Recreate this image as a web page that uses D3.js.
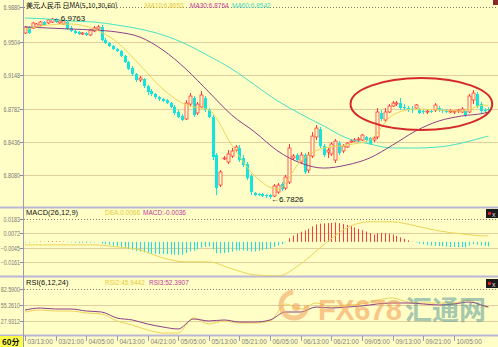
<!DOCTYPE html>
<html><head><meta charset="utf-8">
<script src="https://cdn.jsdelivr.net/npm/d3@7"></script>
<style>
body{margin:0;background:#fffec6;}
svg{display:block;font-family:"Liberation Sans",Arial,sans-serif;}
</style></head>
<body><div id="chart"></div>
<script>
// 60分钟K线 美元人民币
const open = [6.9601,6.9666,6.9655,6.9666,6.9687,6.9719,6.9709,6.9719,6.9751,6.9709,
6.9698,6.9719,6.9655,6.9623,6.9612,6.9591,6.9601,6.9580,6.9623,6.9644,
6.9666,6.9526,6.9494,6.9462,6.9430,6.9408,6.9355,6.9291,6.9226,6.9162,
6.9098,6.9108,6.9033,6.8980,6.8948,6.8915,6.8894,6.8883,6.8851,6.8808,
6.8755,6.8712,6.8680,6.8840,6.8905,6.8744,6.8808,6.8905,6.8776,6.8701,
6.8294,6.7972,6.8262,6.8219,6.8283,6.8347,6.8369,6.8262,6.8197,6.8069,
6.7887,6.7876,6.7876,6.7865,6.7865,6.7854,6.7897,6.7983,6.7940,6.8004,
6.8262,6.8294,6.8219,6.8294,6.8133,6.8283,6.8487,6.8572,6.8390,6.8326,
6.8305,6.8240,6.8422,6.8337,6.8380,6.8433,6.8444,6.8455,6.8455,6.8487,
6.8476,6.8455,6.8487,6.8744,6.8669,6.8755,6.8819,6.8840,6.8851,6.8808,
6.8797,6.8787,6.8797,6.8776,6.8765,6.8755,6.8765,6.8776,6.8797,6.8776,
6.8765,6.8765,6.8755,6.8765,6.8755,6.8765,6.8755,6.8883,6.8948,6.8840,
6.8776,6.8787];
const close = [6.9666,6.9601,6.9709,6.9698,6.9719,6.9687,6.9741,6.9751,6.9719,6.9730,
6.9730,6.9644,6.9623,6.9601,6.9591,6.9601,6.9580,6.9633,6.9655,6.9666,
6.9526,6.9494,6.9462,6.9430,6.9408,6.9355,6.9291,6.9216,6.9162,6.9098,
6.9119,6.9033,6.8969,6.8948,6.8915,6.8894,6.8873,6.8851,6.8808,6.8744,
6.8701,6.8669,6.8851,6.8926,6.8722,6.8840,6.8937,6.8776,6.8701,6.8272,
6.7940,6.8112,6.8262,6.8305,6.8337,6.8380,6.8240,6.8187,6.8047,6.7897,
6.7865,6.7865,6.7854,6.7854,6.7844,6.7962,6.7972,6.7929,6.8058,6.8369,
6.8283,6.8240,6.8294,6.8112,6.8294,6.8497,6.8583,6.8390,6.8294,6.8347,
6.8412,6.8444,6.8315,6.8390,6.8422,6.8444,6.8455,6.8465,6.8508,6.8455,
6.8412,6.8476,6.8755,6.8680,6.8755,6.8819,6.8851,6.8851,6.8797,6.8797,
6.8776,6.8776,6.8830,6.8744,6.8755,6.8765,6.8755,6.8830,6.8776,6.8765,
6.8755,6.8766,6.8765,6.8776,6.8787,6.8722,6.8926,6.8958,6.8819,6.8765,
6.8765,6.8776];
const high = [6.9676,6.9676,6.9719,6.9709,6.9730,6.9730,6.9751,6.9763,6.9760,6.9741,
6.9741,6.9730,6.9676,6.9633,6.9623,6.9612,6.9612,6.9644,6.9676,6.9687,
6.9687,6.9548,6.9505,6.9473,6.9441,6.9419,6.9366,6.9301,6.9248,6.9173,
6.9141,6.9119,6.9044,6.9001,6.8958,6.8926,6.8905,6.8894,6.8862,6.8830,
6.8776,6.8733,6.8883,6.8958,6.8926,6.8862,6.8980,6.8926,6.8797,6.8722,
6.8315,6.8133,6.8283,6.8347,6.8369,6.8401,6.8401,6.8294,6.8219,6.8090,
6.7897,6.7887,6.7887,6.7876,6.7876,6.7983,6.7994,6.8004,6.8080,6.8412,
6.8305,6.8315,6.8326,6.8315,6.8326,6.8540,6.8615,6.8594,6.8412,6.8369,
6.8433,6.8465,6.8444,6.8412,6.8433,6.8465,6.8476,6.8487,6.8519,6.8497,
6.8487,6.8497,6.8797,6.8776,6.8797,6.8840,6.8873,6.8873,6.8905,6.8840,
6.8819,6.8819,6.8840,6.8797,6.8787,6.8776,6.8787,6.8851,6.8819,6.8787,
6.8787,6.8787,6.8776,6.8787,6.8808,6.8776,6.8948,6.8990,6.8969,6.8862,
6.8797,6.8808];
const low = [6.9591,6.9591,6.9644,6.9655,6.9676,6.9676,6.9698,6.9709,6.9709,6.9698,
6.9687,6.9633,6.9612,6.9591,6.9580,6.9580,6.9569,6.9569,6.9612,6.9633,
6.9516,6.9483,6.9451,6.9419,6.9398,6.9344,6.9280,6.9205,6.9141,6.9076,
6.9076,6.9012,6.8937,6.8926,6.8894,6.8873,6.8862,6.8840,6.8797,6.8722,
6.8690,6.8658,6.8669,6.8819,6.8701,6.8722,6.8797,6.8755,6.8690,6.8240,
6.7865,6.7951,6.8240,6.8197,6.8262,6.8326,6.8219,6.8165,6.8026,6.7865,
6.7854,6.7854,6.7844,6.7833,6.7826,6.7844,6.7876,6.7908,6.7919,6.7983,
6.8240,6.8229,6.8197,6.8090,6.8101,6.8262,6.8455,6.8369,6.8272,6.8262,
6.8283,6.8208,6.8294,6.8315,6.8369,6.8422,6.8433,6.8433,6.8444,6.8433,
6.8401,6.8433,6.8465,6.8658,6.8647,6.8744,6.8808,6.8819,6.8776,6.8776,
6.8755,6.8744,6.8787,6.8733,6.8733,6.8733,6.8744,6.8755,6.8755,6.8744,
6.8744,6.8744,6.8733,6.8744,6.8744,6.8701,6.8744,6.8840,6.8797,6.8744,
6.8744,6.8733];

// 均线（每6根取一个读数）
const maIdx = [0,6,12,18,24,30,36,42,48,54,60,66,72,78,84,90,96,102,108,114,120,121];
const ma10 = [6.9633,6.9687,6.9698,6.9644,6.9505,6.9258,6.9001,6.8830,6.8776,6.8401,6.8069,
  6.7929,6.8229,6.8369,6.8401,6.8455,6.8722,6.8787,6.8776,6.8765,6.8830,6.8819];
const ma30 = [6.9666,6.9655,6.9644,6.9633,6.9612,6.9558,6.9419,6.9216,6.8969,6.8722,6.8540,
  6.8337,6.8208,6.8154,6.8187,6.8262,6.8401,6.8551,6.8658,6.8712,6.8744,6.8755];
const ma60 = [6.9762,6.9751,6.9730,6.9719,6.9687,6.9644,6.9580,6.9483,6.9355,6.9216,6.9044,
  6.8873,6.8733,6.8605,6.8476,6.8412,6.8369,6.8369,6.8380,6.8422,6.8487,6.8497];

// MACD
const macdHist = [-0.0004,-0.0006,-0.0003,0.0002,0.0003,0.0002,0.0004,0.0005,0.0004,0.0003,
0.0002,-0.0002,-0.0004,-0.0006,-0.0008,-0.0007,-0.0008,-0.0006,-0.0004,-0.0003,
-0.0012,-0.0018,-0.0024,-0.0030,-0.0036,-0.0042,-0.0050,-0.0058,-0.0066,-0.0074,
-0.0078,-0.0084,-0.0090,-0.0094,-0.0096,-0.0098,-0.0098,-0.0098,-0.0100,-0.0102,
-0.0104,-0.0104,-0.0090,-0.0076,-0.0070,-0.0060,-0.0046,-0.0040,-0.0038,-0.0060,
-0.0090,-0.0092,-0.0090,-0.0084,-0.0078,-0.0070,-0.0068,-0.0068,-0.0072,-0.0078,
-0.0076,-0.0072,-0.0066,-0.0060,-0.0054,-0.0040,-0.0028,-0.0018,-0.0004,0.0030,
0.0050,0.0066,0.0082,0.0092,0.0104,0.0124,0.0140,0.0146,0.0148,0.0150,
0.0152,0.0156,0.0150,0.0144,0.0136,0.0126,0.0116,0.0104,0.0094,0.0082,
0.0070,0.0058,0.0070,0.0072,0.0070,0.0066,0.0058,0.0048,0.0036,0.0024,
0.0012,0.0002,-0.0006,-0.0014,-0.0020,-0.0026,-0.0030,-0.0030,-0.0034,-0.0036,
-0.0038,-0.0040,-0.0040,-0.0042,-0.0042,-0.0044,-0.0030,-0.0018,-0.0022,-0.0028,
-0.0032,-0.0036];
const dea = [-0.0024,-0.0024,-0.0024,-0.0024,-0.0040,-0.0064,-0.0128,-0.0160,-0.0160,-0.0216,-0.0264,
  -0.0272,-0.0176,-0.0024,0.0112,0.0160,0.0160,0.0128,0.0088,0.0064,0.0048,0.0048];

// RSI（每4根取一个读数）
const rsiIdx = [0,4,8,12,16,20,24,28,32,36,40,44,48,52,56,60,64,68,72,76,80,84,88,92,96,100,104,108,112,116,120,121];
const rsi2 = [43.3,46.7,45.0,45.0,41.6,39.9,28.0,21.1,12.6,7.4,7.4,33.1,22.8,28.0,24.5,24.5,
  28.0,57.0,48.4,58.7,51.8,55.3,57.0,63.8,67.2,60.4,58.7,58.7,58.7,63.8,51.8,51.8];
const rsi3 = [46.7,50.1,48.4,48.4,45.0,43.3,33.1,29.7,22.8,17.7,14.3,31.4,28.0,29.7,26.2,26.2,
  29.7,43.3,43.3,51.8,50.1,51.8,53.6,57.0,58.7,58.7,57.0,55.3,57.0,60.4,53.6,51.8];

// 刻度
const priceTicks = [6.9880,6.9504,6.9148,6.8782,6.8436,6.8080];
const macdTicks = [0.0183,0.0072,-0.0045,-0.0161];
const rsiTicks = [82.5900,55.2610,27.9312];
const dateIdx = [0,8,16,24,32,40,48,56,64,72,80,88,96,104,112];
const dateLabels = ["03/13:00","03/21:00","04/05:00","04/13:00","04/21:00","05/05:00","05/13:00",
  "05/21:00","06/05:00","06/13:00","06/21:00","09/05:00","09/13:00","09/21:00","10/05:00"];

const W = 498, H = 347;
const bg = "#fffec6";
const upColor = "#ff3c3c", downColor = "#14e4dc";

const svg = d3.select("#chart").append("svg").attr("width", W).attr("height", H);
svg.append("rect").attr("width", W).attr("height", H).attr("fill", bg);

const x = d3.scaleLinear().domain([0, 121]).range([25, 488.4]);
const yP = d3.scaleLinear().domain([6.8080, 6.9880]).range([175, 7]);
const yM = d3.scaleLinear().domain([-0.0161, 0.0183]).range([262, 219]);
const yR = d3.scaleLinear().domain([27.9312, 82.5900]).range([321, 289]);

const panels = [
  {top: 0, bottom: 207},
  {top: 208, bottom: 276},
  {top: 277, bottom: 335}
];
panels.forEach((p, i) => {
  svg.append("clipPath").attr("id", "clip" + i).append("rect")
    .attr("x", 24).attr("y", p.top).attr("width", W - 24).attr("height", p.bottom - p.top);
});

// 网格线与刻度文字
function grid(ticks, scale, fmt) {
  ticks.forEach((t, i) => {
    const yy = Math.round(scale(t)) + 0.5;
    svg.append("line").attr("x1", 24).attr("x2", W).attr("y1", yy).attr("y2", yy)
      .attr("stroke", i === 0 ? "#8a7a6a" : "#e0cf9c")
      .attr("stroke-width", 1)
      .attr("stroke-dasharray", i === 0 ? "1,2" : null);
    svg.append("line").attr("x1", 20).attr("x2", 24).attr("y1", yy).attr("y2", yy).attr("stroke", "#8888aa");
    const s = fmt(t);
    svg.append("text").attr("x", 20).attr("y", yy).attr("dy", "0.35em")
      .attr("text-anchor", "end").attr("font-size", 6.5).attr("fill", "#7a7a7a")
      .attr("textLength", s.length * 2.75).attr("lengthAdjust", "spacingAndGlyphs")
      .text(s);
  });
}
grid(priceTicks, yP, d3.format(".4f"));
grid(macdTicks, yM, d3.format(".4f"));
grid(rsiTicks, yR, d3.format(".4f"));

// 面板分隔线
[207.5, 276.5, 335.5].forEach(yy => {
  svg.append("line").attr("x1", 0).attr("x2", W).attr("y1", yy).attr("y2", yy)
    .attr("stroke", "#bcb6d6").attr("stroke-width", 2);
});
svg.append("line").attr("x1", 23.5).attr("x2", 23.5).attr("y1", 0).attr("y2", H)
  .attr("stroke", "#9a98bc").attr("stroke-width", 1);

// K线
const bars = d3.range(open.length).map(i => ({i, o: open[i], c: close[i], h: high[i], l: low[i]}));
const main = svg.append("g").attr("clip-path", "url(#clip0)");
const candle = main.selectAll("g.k").data(bars).join("g").attr("class", "k");
candle.append("line")
  .attr("x1", d => Math.round(x(d.i)) + 0.5).attr("x2", d => Math.round(x(d.i)) + 0.5)
  .attr("y1", d => yP(d.h)).attr("y2", d => yP(d.l))
  .attr("stroke", d => d.c >= d.o ? upColor : downColor);
candle.append("rect")
  .attr("x", d => Math.round(x(d.i)) - 1)
  .attr("y", d => yP(Math.max(d.o, d.c)))
  .attr("width", 3)
  .attr("height", d => Math.max(1, Math.abs(yP(d.o) - yP(d.c))))
  .attr("fill", d => d.c >= d.o ? bg : downColor)
  .attr("stroke", d => d.c >= d.o ? upColor : "none")
  .attr("stroke-width", 0.8);

// 均线
const maLine = d3.line().x((d, k) => x(maIdx[k])).y(d => yP(d)).curve(d3.curveMonotoneX);
[[ma60, "#47e3c4"], [ma30, "#8e3f86"], [ma10, "#ecd45a"]].forEach(([arr, col]) => {
  main.append("path").datum(arr).attr("d", maLine)
    .attr("fill", "none").attr("stroke", col).attr("stroke-width", 1);
});

// 最高最低价标注
const hiI = d3.maxIndex(high), loI = d3.minIndex(low);
svg.append("text").attr("x", x(hiI) + 1).attr("y", yP(high[hiI])).attr("dy", "0.35em")
  .attr("font-size", 8).attr("fill", "#111").text("\u2190" + high[hiI].toFixed(4));
svg.append("text").attr("x", x(loI) + 1).attr("y", yP(low[loI])).attr("dy", "0.35em")
  .attr("font-size", 8).attr("fill", "#111").text("\u2190" + low[loI].toFixed(4));

// 红色椭圆
const ellBars = [85, 122], ellPrices = [6.8562, 6.9119];
svg.append("ellipse")
  .attr("cx", (x(ellBars[0]) + x(ellBars[1])) / 2)
  .attr("cy", (yP(ellPrices[0]) + yP(ellPrices[1])) / 2)
  .attr("rx", (x(ellBars[1]) - x(ellBars[0])) / 2)
  .attr("ry", (yP(ellPrices[0]) - yP(ellPrices[1])) / 2)
  .attr("fill", "none").attr("stroke", "#d62a2a").attr("stroke-width", 2);

// 标题
svg.append("text").attr("x", 26).attr("y", 8).attr("font-size", 7)
  .attr("font-family", "'Noto Sans CJK SC',sans-serif").attr("fill", "#111")
  .text("美元人民币 日MA(5,10,30,60)");
svg.append("text").attr("x", 145).attr("y", 7.5).attr("font-size", 6.5).attr("fill", "#e6c93a").text("MA10:6.8653");
svg.append("text").attr("x", 190).attr("y", 7.5).attr("font-size", 6.5).attr("fill", "#c23a9e").text("MA30:6.8764");
svg.append("text").attr("x", 232).attr("y", 7.5).attr("font-size", 6.5).attr("fill", "#3fd9c0").text("MA60:6.8542");

// MACD
const mg = svg.append("g").attr("clip-path", "url(#clip1)");
mg.selectAll("line.h").data(macdHist).join("line").attr("class", "h")
  .attr("x1", (d, i) => Math.round(x(i)) + 0.5).attr("x2", (d, i) => Math.round(x(i)) + 0.5)
  .attr("y1", yM(0)).attr("y2", d => yM(d))
  .attr("stroke", d => d >= 0 ? upColor : downColor).attr("stroke-width", 1);
mg.append("path").datum(dea)
  .attr("d", d3.line().x((d, k) => x(maIdx[k])).y(d => yM(d)).curve(d3.curveMonotoneX))
  .attr("fill", "none").attr("stroke", "#ecd45a").attr("stroke-width", 1);
svg.append("text").attr("x", 26).attr("y", 215).attr("font-size", 7.5).attr("fill", "#111").text("MACD(26,12,9)");
svg.append("text").attr("x", 105).attr("y", 215).attr("font-size", 6.5).attr("fill", "#e6c93a").text("DEA:0.0066");
svg.append("text").attr("x", 143).attr("y", 215).attr("font-size", 6.5).attr("fill", "#c23a9e").text("MACD:-0.0036");

// RSI
const rg = svg.append("g").attr("clip-path", "url(#clip2)");
const rsiLine = d3.line().x((d, k) => x(rsiIdx[k])).y(d => yR(d)).curve(d3.curveMonotoneX);
rg.append("path").datum(rsi2).attr("d", rsiLine).attr("fill", "none").attr("stroke", "#ecd45a");
rg.append("path").datum(rsi3).attr("d", rsiLine).attr("fill", "none").attr("stroke", "#8e3f86");
svg.append("text").attr("x", 26).attr("y", 285).attr("font-size", 7.5).attr("fill", "#111").text("RSI(6,12,24)");
svg.append("text").attr("x", 105).attr("y", 285).attr("font-size", 6.5).attr("fill", "#e6c93a").text("RSI2:45.9442");
svg.append("text").attr("x", 149).attr("y", 285).attr("font-size", 6.5).attr("fill", "#c23a9e").text("RSI3:52.3907");

// 右侧小按钮
[209, 279].forEach(yy => {
  svg.append("rect").attr("x", 486).attr("y", yy).attr("width", 12).attr("height", 9).attr("fill", "#1b1b1b");
  svg.append("rect").attr("x", 488).attr("y", yy + 3).attr("width", 3).attr("height", 3).attr("fill", "#e02020");
  svg.append("text").attr("x", 492).attr("y", yy + 7.5).attr("font-size", 7).attr("fill", "#ddd").text("x");
});
svg.append("rect").attr("x", 493).attr("y", 0).attr("width", 5).attr("height", 5).attr("fill", "#8a2a2a");

// 水印
const wm = svg.append("g").attr("opacity", 0.55);
wm.append("circle").attr("cx", 294).attr("cy", 305).attr("r", 13)
  .attr("fill", "none").attr("stroke", "#f0a060").attr("stroke-width", 5)
  .attr("stroke-dasharray", "60,22");
wm.append("circle").attr("cx", 296).attr("cy", 307).attr("r", 4).attr("fill", "#f0a060");
wm.append("text").attr("x", 318).attr("y", 320).attr("font-size", 29).attr("font-weight", "bold")
  .attr("fill", "#f39a54").attr("textLength", 84).text("FX678");
wm.append("text").attr("x", 405).attr("y", 320).attr("font-size", 27).attr("font-weight", "bold")
  .attr("font-family", "'Noto Sans CJK SC',sans-serif").attr("fill", "#5e9c9c").text("汇通网");

// 时间轴
svg.append("rect").attr("x", 0).attr("y", 336).attr("width", 23).attr("height", 11).attr("fill", "#ffff4a");
svg.append("text").attr("x", 2).attr("y", 345).attr("font-size", 8).attr("font-weight", "bold")
  .attr("font-family", "'Noto Sans CJK SC',sans-serif").attr("fill", "#111").text("60分");
dateIdx.forEach((di, k) => {
  const xx = Math.round(x(di)) + 0.5;
  svg.append("line").attr("x1", xx).attr("x2", xx).attr("y1", 336).attr("y2", 341).attr("stroke", "#9a98bc");
  svg.append("text").attr("x", xx + 2).attr("y", 344).attr("font-size", 6.5).attr("fill", "#808080")
    .text(dateLabels[k]);
});
</script>
</body></html>
